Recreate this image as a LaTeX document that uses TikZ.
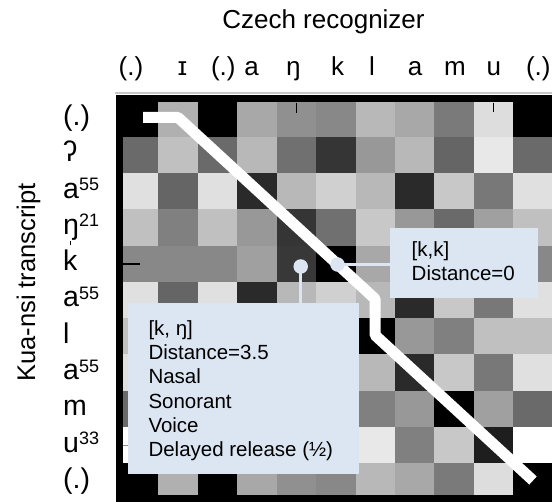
\documentclass[tikz,border=0pt]{standalone}
\usepackage{fontspec}
\setmainfont{Liberation Sans}
\definecolor{calloutblue}{HTML}{DCE6F2}
\newcommand\tone[1]{\raisebox{7.5pt}{\fontsize{18}{18}\selectfont #1}}
\begin{document}
\begin{tikzpicture}[x=1pt,y=-1pt,
  rowlab/.style={inner sep=0pt, anchor=base west, font=\fontsize{28.5}{32}\selectfont},
  collab/.style={inner sep=0pt, anchor=base, font=\fontsize{26}{30}\selectfont},
  axistitle/.style={inner sep=0pt, anchor=base, font=\fontsize{26}{30}\selectfont},
  callout/.style={fill=calloutblue, draw=none, inner sep=0pt, anchor=north west},
  boxtext/.style={inner sep=0pt, anchor=base west, font=\fontsize{20.5}{24}\selectfont},
  leader/.style={draw=calloutblue, line width=3pt},
  pindot/.style={circle, fill=calloutblue, inner sep=0pt, minimum size=14.5pt},
  tick/.style={line width=1.6pt},
]
\useasboundingbox (0,0) rectangle (552,502);

% titles
\node[axistitle] (ttop) at (323.5,28.3) {Czech recognizer};
\node[axistitle, rotate=90, font=\fontsize{25.5}{30}\selectfont] (tleft) at (35,282.5) {Kua-nsi transcript};

% column labels
\foreach \lab/\x [count=\i] in {(.)/131, ɪ/182.5, (.)/223.3, a/251.7, ŋ/293.3, k/337.5, l/372, a/415, m/455, u/493.8, (.)/538.3}
  \node[collab] (c\i) at (\x,75.5) {\lab};

% row labels
\foreach \lab [count=\i from 0] in {(.), ʔ, a\tone{55}, ŋ\tone{21}, k, a\tone{55}, l, a\tone{55}, m, u\tone{33}, (.)}
  \node[rowlab] (r\i) at (63,125.5+36.3*\i) {\lab};
% small vertical mark above the k of row 4
\draw[line width=1.1pt] (r4.base west) ++(7.3,-25.2) -- ++(0,-4.3);

% frame of the distance matrix
\draw[line width=2.5pt, black!22] (115,93) -- (552,93);
\fill[black] (116,95) rectangle (552,502);

% distance matrix cells (grey level 0--255 per cell)
\begin{scope}
\clip (123,103) rectangle (552,495);
\foreach \vals [count=\r from 0] in {
  {0,176,0,168,144,136,184,168,122,221,0},
  {106,192,106,184,112,53,152,184,101,232,106},
  {224,101,224,42,184,208,184,42,200,120,224},
  {192,128,192,152,53,112,200,152,106,160,192},
  {136,136,136,160,56,0,168,160,160,200,136},
  {224,101,224,42,184,208,184,42,200,120,224},
  {192,160,192,152,176,144,0,152,128,192,192},
  {224,101,224,42,184,208,184,42,200,120,224},
  {106,144,106,152,96,168,128,152,0,160,106},
  {255,184,255,128,192,216,232,128,200,30,255},
  {0,176,0,168,144,136,184,168,122,221,0}} {
  \foreach \v [count=\c from 0] in \vals {
    \fill[fill={rgb,255:red,\v;green,\v;blue,\v}]
      (118.9+39.44*\c,100.4+36.3*\r) rectangle +(39.9,36.8);
  }
}
\end{scope}

% small ticks
\draw[tick] (296.4,103) -- (296.4,113);
\draw[tick] (493.6,103) -- (493.6,112);
\draw[tick] (123,263.8) -- (140,263.8);
\draw[line width=1pt, black!45] (123,445.3) -- (140,445.3);

% alignment path
\coordinate (p0) at (143,117.5);
\coordinate (p1) at (178.1,117.5);
\coordinate (p2) at (375.2,299);
\coordinate (p3) at (375.2,335.3);
\coordinate (p4) at (533,480.5);
\draw[white, line width=11pt, line join=bevel] (p0) -- (p1) -- (p2) -- (p3) -- (p4);

% callouts
\node[pindot] (dot1) at (337.5,264.5) {};
\node[pindot] (dot2) at (300.7,266.5) {};
\node[callout, minimum width=148pt, minimum height=70pt] (box1) at (390,228) {};
\node[callout, minimum width=230.6pt, minimum height=171pt] (box2) at (127.7,303.3) {};
\draw[leader] (dot1.center) -- (dot1 -| box1.west);
\draw[leader] (dot2.center) -- (dot2 |- box2.north);

\node[boxtext] (k1) at (411.5,257) {[k,k]};
\node[boxtext] (k2) at (411.5,281) {Distance=0};

\node[boxtext] (n1) at (148.3,335.5) {[k, ŋ]};
\node[boxtext] (n2) at (148.3,360) {Distance=3.5};
\node[boxtext] (n3) at (148.3,384) {Nasal};
\node[boxtext] (n4) at (148.3,408.3) {Sonorant};
\node[boxtext] (n5) at (148.3,432.7) {Voice};
\node[boxtext] (n6) at (148.3,457) {Delayed release (½)};
\end{tikzpicture}
\end{document}
